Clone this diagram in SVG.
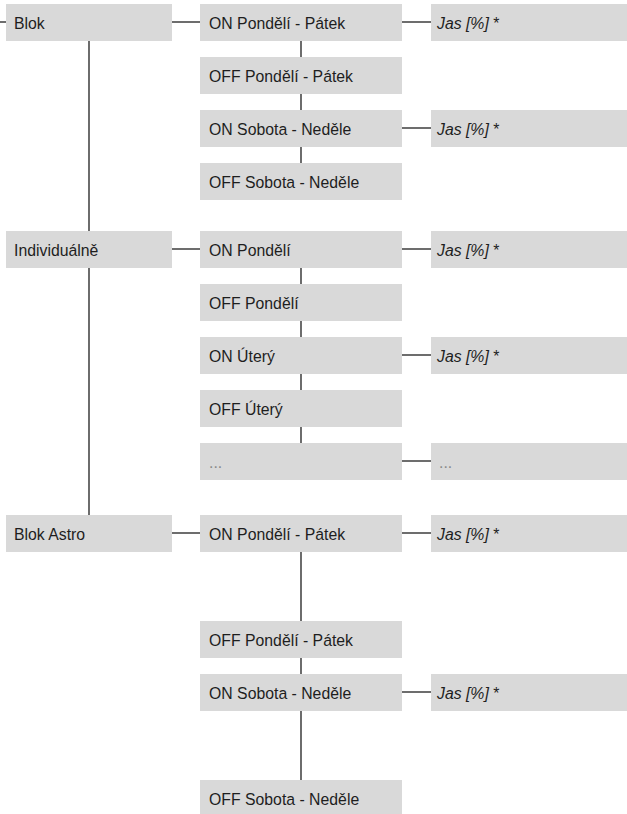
<svg xmlns="http://www.w3.org/2000/svg" width="627" height="814" viewBox="0 0 627 814">
<style>
.b{fill:#d9d9d9}
.t{font-family:"Liberation Sans",Arial,sans-serif;font-size:17px;fill:#1e1e1e}
.i{font-style:italic}
.d{fill:#8a8a8a}
.c line{stroke:#1e1e1e;stroke-width:1.3}
</style>
<rect width="627" height="814" fill="#fff"/>
<g class="c" id="connectors">
<line x1="0" y1="22" x2="6" y2="22"/>
<line x1="89" y1="41" x2="89" y2="231"/>
<line x1="89" y1="268" x2="89" y2="515"/>
<line x1="172" y1="22" x2="200" y2="22"/>
<line x1="172" y1="249" x2="200" y2="249"/>
<line x1="172" y1="533" x2="200" y2="533"/>
<line x1="402" y1="22" x2="431" y2="22"/>
<line x1="402" y1="128" x2="431" y2="128"/>
<line x1="402" y1="249" x2="431" y2="249"/>
<line x1="402" y1="355" x2="431" y2="355"/>
<line x1="402" y1="461" x2="431" y2="461"/>
<line x1="402" y1="533" x2="431" y2="533"/>
<line x1="402" y1="692" x2="431" y2="692"/>
<line x1="301" y1="41" x2="301" y2="57"/>
<line x1="301" y1="94" x2="301" y2="110"/>
<line x1="301" y1="147" x2="301" y2="163"/>
<line x1="301" y1="268" x2="301" y2="284"/>
<line x1="301" y1="321" x2="301" y2="337"/>
<line x1="301" y1="374" x2="301" y2="390"/>
<line x1="301" y1="427" x2="301" y2="443"/>
<line x1="301" y1="552" x2="301" y2="621"/>
<line x1="301" y1="658" x2="301" y2="674"/>
<line x1="301" y1="711" x2="301" y2="780"/>
</g>
<g id="blok"><rect class="b" x="6" y="4" width="166" height="37"/><text class="t" transform="translate(14 29) scale(.93 1)">Blok</text></g>
<g id="individualne"><rect class="b" x="6" y="231" width="166" height="37"/><text class="t" transform="translate(14 256) scale(.93 1)">Individuálně</text></g>
<g id="blokastro"><rect class="b" x="6" y="515" width="166" height="37"/><text class="t" transform="translate(14 540) scale(.93 1)">Blok Astro</text></g>

<g id="b1"><rect class="b" x="200" y="4" width="202" height="37"/><text class="t" transform="translate(209 29) scale(.93 1)">ON Pondělí - Pátek</text></g>
<g id="b2"><rect class="b" x="200" y="57" width="202" height="37"/><text class="t" transform="translate(209 82) scale(.93 1)">OFF Pondělí - Pátek</text></g>
<g id="b3"><rect class="b" x="200" y="110" width="202" height="37"/><text class="t" transform="translate(209 135) scale(.93 1)">ON Sobota - Neděle</text></g>
<g id="b4"><rect class="b" x="200" y="163" width="202" height="37"/><text class="t" transform="translate(209 188) scale(.93 1)">OFF Sobota - Neděle</text></g>

<g id="i1"><rect class="b" x="200" y="231" width="202" height="37"/><text class="t" transform="translate(209 256) scale(.93 1)">ON Pondělí</text></g>
<g id="i2"><rect class="b" x="200" y="284" width="202" height="37"/><text class="t" transform="translate(209 309) scale(.93 1)">OFF Pondělí</text></g>
<g id="i3"><rect class="b" x="200" y="337" width="202" height="37"/><text class="t" transform="translate(209 362) scale(.93 1)">ON Úterý</text></g>
<g id="i4"><rect class="b" x="200" y="390" width="202" height="37"/><text class="t" transform="translate(209 415) scale(.93 1)">OFF Úterý</text></g>
<g id="i5"><rect class="b" x="200" y="443" width="202" height="37"/><text class="t d" transform="translate(209 468) scale(.93 1)">...</text></g>

<g id="a1"><rect class="b" x="200" y="515" width="202" height="37"/><text class="t" transform="translate(209 540) scale(.93 1)">ON Pondělí - Pátek</text></g>
<g id="a2"><rect class="b" x="200" y="621" width="202" height="37"/><text class="t" transform="translate(209 646) scale(.93 1)">OFF Pondělí - Pátek</text></g>
<g id="a3"><rect class="b" x="200" y="674" width="202" height="37"/><text class="t" transform="translate(209 699) scale(.93 1)">ON Sobota - Neděle</text></g>
<g id="a4"><rect class="b" x="200" y="780" width="202" height="37"/><text class="t" transform="translate(209 805) scale(.93 1)">OFF Sobota - Neděle</text></g>

<g id="j1"><rect class="b" x="431" y="4" width="196" height="37"/><text class="t" transform="translate(437 29) scale(.93 1)"><tspan class="i">Jas [%]</tspan> *</text></g>
<g id="j2"><rect class="b" x="431" y="110" width="196" height="37"/><text class="t" transform="translate(437 135) scale(.93 1)"><tspan class="i">Jas [%]</tspan> *</text></g>
<g id="j3"><rect class="b" x="431" y="231" width="196" height="37"/><text class="t" transform="translate(437 256) scale(.93 1)"><tspan class="i">Jas [%]</tspan> *</text></g>
<g id="j4"><rect class="b" x="431" y="337" width="196" height="37"/><text class="t" transform="translate(437 362) scale(.93 1)"><tspan class="i">Jas [%]</tspan> *</text></g>
<g id="j5"><rect class="b" x="431" y="443" width="196" height="37"/><text class="t d" transform="translate(439 468) scale(.93 1)">...</text></g>
<g id="j6"><rect class="b" x="431" y="515" width="196" height="37"/><text class="t" transform="translate(437 540) scale(.93 1)"><tspan class="i">Jas [%]</tspan> *</text></g>
<g id="j7"><rect class="b" x="431" y="674" width="196" height="37"/><text class="t" transform="translate(437 699) scale(.93 1)"><tspan class="i">Jas [%]</tspan> *</text></g>
</svg>
